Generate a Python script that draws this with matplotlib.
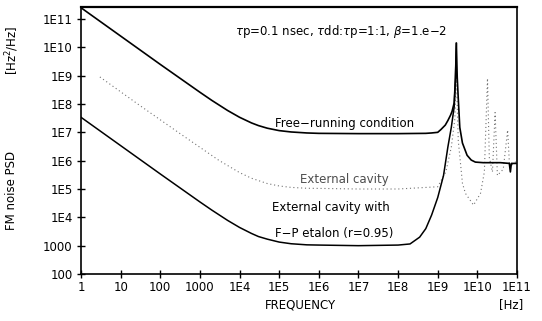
import matplotlib
matplotlib.use("Agg")
import matplotlib.pyplot as plt

# free-running laser
f_free = [1, 10, 100, 1e3, 2e3, 5e3, 1e4, 2e4, 3e4, 5e4, 1e5, 2e5, 5e5, 1e6, 1e7, 1e8,
          5e8, 7e8, 1e9, 1.2e9, 1.55e9, 1.8e9, 2.1e9, 2.3e9, 2.6e9, 2.8e9, 2.95e9,
          3.1e9, 3.3e9, 3.6e9, 4.2e9, 5.5e9, 7e9, 8.9e9, 1.4e10, 3.8e10, 6.4e10,
          6.8e10, 7.2e10, 1e11]
psd_free = [2.5e11, 2.5e10, 2.5e9, 2.6e8, 1.34e8, 5.9e7, 3.4e7, 2.15e7, 1.73e7, 1.4e7,
            1.15e7, 1.03e7, 9.5e6, 9.2e6, 9e6, 9e6, 9.2e6, 9.5e6, 1e7, 1.25e7, 1.8e7,
            2.6e7, 4e7, 5.5e7, 1.1e8, 8e8, 1.4e10, 9e8, 1.5e8, 1.5e7, 4.2e6, 1.55e6,
            1.05e6, 8.9e5, 8.5e5, 8.5e5, 8e5, 4e5, 8e5, 8e5]

# external cavity with F-P etalon
f_etalon = [1, 10, 100, 1e3, 2e3, 5e3, 1e4, 2e4, 3e4, 5e4, 1e5, 2e5, 5e5, 1e6, 1e7,
            1e8, 2e8, 3.5e8, 5e8, 7e8, 1e9, 1.4e9, 1.8e9, 2.2e9, 2.6e9, 2.8e9, 2.95e9]
psd_etalon = [3.4e7, 3.4e6, 3.4e5, 3.5e4, 1.8e4, 7.8e3, 4.4e3, 2.7e3, 2.1e3, 1.7e3,
              1.34e3, 1.17e3, 1.07e3, 1.05e3, 1e3, 1.05e3, 1.15e3, 2e3, 4e3, 1.2e4,
              5e4, 3e5, 3e6, 1.5e7, 8e7, 8e8, 1.4e10]

# external cavity (dotted)
f_ext = [3, 30, 316, 3e3, 1e4, 2e4, 5e4, 1e5, 2e5, 5e5, 1e6, 1e7, 1e8, 1e9, 1.6e9,
         2.2e9, 2.7e9, 2.95e9, 3.3e9, 4.2e9, 5e9, 8e9, 1.2e10, 1.5e10, 1.8e10, 2e10,
         2.4e10, 2.8e10, 3.2e10, 4.5e10, 5.8e10, 6.5e10, 1e11]
psd_ext = [9e8, 9e7, 9e6, 1.03e6, 3.8e5, 2.4e5, 1.56e5, 1.28e5, 1.14e5, 1.06e5, 1.05e5,
           1e5, 1e5, 1.2e5, 4e5, 3e6, 3e7, 1e9, 5e6, 1.6e5, 7e4, 2.7e4, 7e4, 4e5, 8e8,
           1.3e6, 4e5, 5e7, 3e5, 5e5, 1.2e7, 6e5, 1e6]

x_ticks = [1, 10, 100, 1e3, 1e4, 1e5, 1e6, 1e7, 1e8, 1e9, 1e10, 1e11]
x_labels = ["1", "10", "100", "1000", "1E4", "1E5", "1E6", "1E7", "1E8", "1E9", "1E10", "1E11"]
y_ticks = [1e2, 1e3, 1e4, 1e5, 1e6, 1e7, 1e8, 1e9, 1e10, 1e11]
y_labels = ["100", "1000", "1E4", "1E5", "1E6", "1E7", "1E8", "1E9", "1E10", "1E11"]

fig = plt.figure(figsize=(5.42, 3.21), dpi=100)
ax = fig.add_axes([0.1494, 0.1464, 0.8045, 0.8318])

ax.loglog(f_ext, psd_ext, color="0.45", lw=0.8, linestyle=(0, (1, 2.5)))
ax.loglog(f_etalon, psd_etalon, color="black", lw=1.1)
ax.loglog(f_free, psd_free, color="black", lw=1.2)

ax.set_xlim(1, 1e11)
ax.set_ylim(100, 2.65e11)
ax.set_xticks(x_ticks)
ax.set_xticklabels(x_labels)
ax.set_yticks(y_ticks)
ax.set_yticklabels(y_labels)
ax.minorticks_off()
ax.tick_params(direction="inout", length=6, width=1, labelsize=8.5)
ax.tick_params(axis="x", pad=2)
ax.tick_params(axis="y", pad=3)
for s in ax.spines.values():
    s.set_linewidth(1.2)
ax.spines["top"].set_linewidth(1.6)

# texts placed in pixel coordinates (from bottom-left)
kw = dict(transform=None, fontsize=8.5, va="center")
ax.text(235, 321 - 32, r"$\tau$p=0.1 nsec, $\tau$dd:$\tau$p=1:1, $\beta$=1.e$-$2", **kw)
ax.text(275, 321 - 124, "Free\u2212running condition", **kw)
ax.text(300, 321 - 180, "External cavity", color="0.3", **kw)
ax.text(272, 321 - 208, "External cavity with", **kw)
ax.text(275, 321 - 233, "F\u2212P etalon (r=0.95)", **kw)

fig.text(12 / 542, 1 - 190 / 321, "FM noise PSD", rotation=90, fontsize=8.5,
         ha="center", va="center")
fig.text(12 / 542, 1 - 50 / 321, "[Hz$^2$/Hz]", rotation=90, fontsize=8.5,
         ha="center", va="center")
fig.text(300 / 542, 1 - 305 / 321, "FREQUENCY", fontsize=8.5, ha="center", va="center")
fig.text(511 / 542, 1 - 305 / 321, "[Hz]", fontsize=8.5, ha="center", va="center")

fig.savefig("out.png", dpi=100)
